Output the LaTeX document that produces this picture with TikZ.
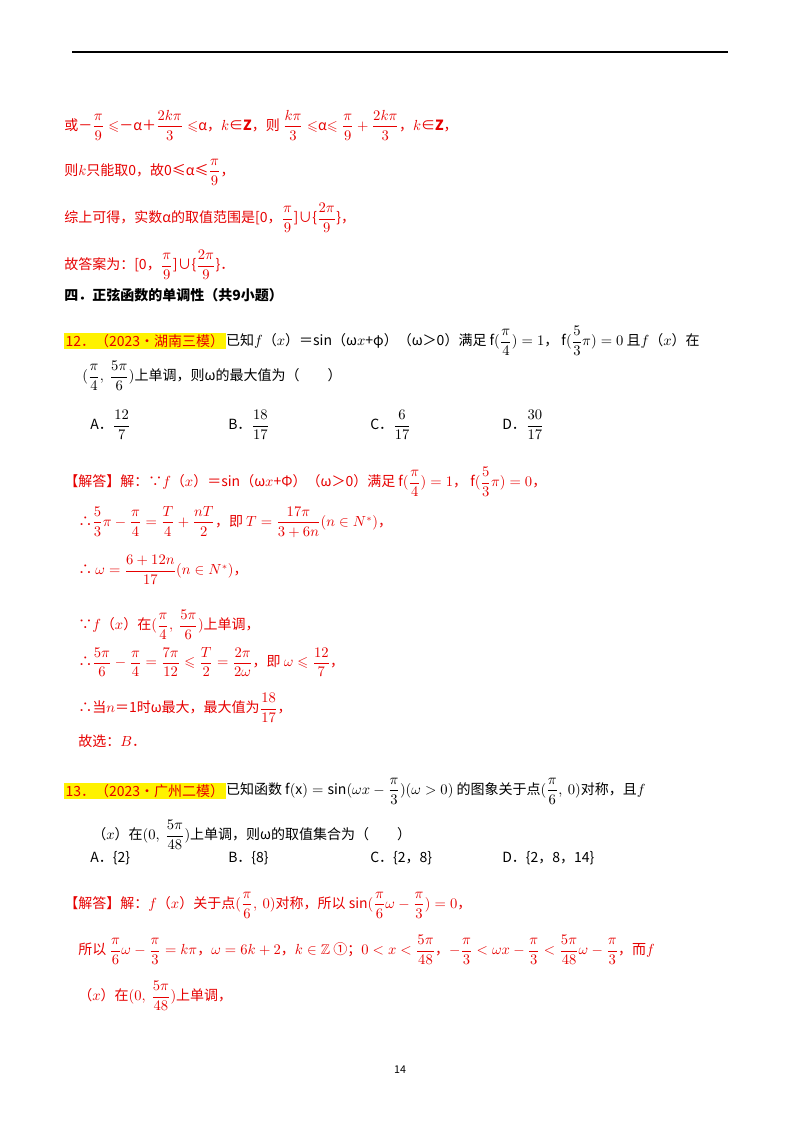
\documentclass[tikz,border=0pt]{standalone}
\usepackage{amsmath,amssymb}
\usepackage{fontspec}
\setmainfont{Noto Sans CJK SC}
\definecolor{ansred}{RGB}{230,0,0}
\begin{document}
\begin{tikzpicture}[x=0.75pt,y=-0.75pt,
  ln/.style={anchor=west,inner sep=0pt,font=\fontsize{10.5}{12}\selectfont},
  rl/.style={ln,text=ansred},
  hl/.style={fill=yellow,inner sep=1pt,anchor=west,text=ansred,font=\fontsize{10.5}{12}\selectfont}]
\useasboundingbox (0,0) rectangle (800,1132);
\draw[line width=0.8pt] (72,52) -- (728,52);
\node[rl] (l1) at (64,125) {或－$\dfrac{\pi}{9}\leqslant$－α＋$\dfrac{2k\pi}{3}\leqslant$α，$k$∈\textbf{Z}，则 $\dfrac{k\pi}{3}\leqslant$α$\leqslant\dfrac{\pi}{9}+\dfrac{2k\pi}{3}$，$k$∈\textbf{Z}，};
\node[rl] (l2) at (64,172) {则$k$只能取0，故0≤α≤$\dfrac{\pi}{9}$，};
\node[rl] (l3) at (64,218) {综上可得，实数α的取值范围是[0，$\dfrac{\pi}{9}$]∪\{$\dfrac{2\pi}{9}$\}，};
\node[rl] (l4) at (64,265) {故答案为：[0，$\dfrac{\pi}{9}$]∪\{$\dfrac{2\pi}{9}$\}．};
\node[ln,font=\fontsize{10.5}{12}\bfseries] (h4) at (64,295) {四．正弦函数的单调性（共9小题）};
\node[hl] (q12) at (64,341) {12．（2023•湖南三模）};
\node[ln] (q12a) at (q12.east) {已知$f$（$x$）＝sin（ω$x$+φ）（ω＞0）满足 $\mathrm{f}(\dfrac{\pi}{4})=1$，~$\mathrm{f}(\dfrac{5}{3}\pi)=0$ 且$f$（$x$）在};
\node[ln] (q12b) at (82,376) {$(\dfrac{\pi}{4},\ \dfrac{5\pi}{6})$上单调，则ω的最大值为（\quad\quad）};
\node[ln] (oA) at (90,425) {A．$\dfrac{12}{7}$};
\node[ln] (oB) at (228,425) {B．$\dfrac{18}{17}$};
\node[ln] (oC) at (370,425) {C．$\dfrac{6}{17}$};
\node[ln] (oD) at (502,425) {D．$\dfrac{30}{17}$};
\node[rl] (s1) at (64,482) {【解答】解：∵$f$（$x$）＝sin（ω$x$+Φ）（ω＞0）满足 $\mathrm{f}(\dfrac{\pi}{4})=1$，~$\mathrm{f}(\dfrac{5}{3}\pi)=0$，};
\node[rl] (s2) at (78,522) {∴$\dfrac{5}{3}\pi-\dfrac{\pi}{4}=\dfrac{T}{4}+\dfrac{nT}{2}$，即 $T=\dfrac{17\pi}{3+6n}(n\in N^{*})$，};
\node[rl] (s3) at (78,570) {∴ $\omega=\dfrac{6+12n}{17}(n\in N^{*})$，};
\node[rl] (s4) at (78,625) {∵$f$（$x$）在$(\dfrac{\pi}{4},\ \dfrac{5\pi}{6})$上单调，};
\node[rl] (s5) at (78,662) {∴$\dfrac{5\pi}{6}-\dfrac{\pi}{4}=\dfrac{7\pi}{12}\leqslant\dfrac{T}{2}=\dfrac{2\pi}{2\omega}$，即 $\omega\leqslant\dfrac{12}{7}$，};
\node[rl] (s6) at (78,708) {∴当$n$＝1时ω最大，最大值为$\dfrac{18}{17}$，};
\node[rl] (s7) at (78,741) {故选：$B$．};
\node[hl] (q13) at (64,791) {13．（2023•广州二模）};
\node[ln] (q13a) at (q13.east) {已知函数 $\mathrm{f(x)=sin}(\omega x-\dfrac{\pi}{3})(\omega>0)$ 的图象关于点$(\dfrac{\pi}{6},\ 0)$对称，且$f$};
\node[ln] (q13b) at (92,835) {（$x$）在$(0,\ \dfrac{5\pi}{48})$上单调，则ω的取值集合为（\quad\quad）};
\node[ln] (pA) at (90,858) {A．\{2\}};
\node[ln] (pB) at (228,858) {B．\{8\}};
\node[ln] (pC) at (370,858) {C．\{2，8\}};
\node[ln] (pD) at (502,858) {D．\{2，8，14\}};
\node[rl] (t1) at (64,905) {【解答】解：$f$（$x$）关于点$(\dfrac{\pi}{6},\ 0)$对称，所以 $\sin(\dfrac{\pi}{6}\omega-\dfrac{\pi}{3})=0$，};
\node[rl] (t2) at (78,950) {所以 $\dfrac{\pi}{6}\omega-\dfrac{\pi}{3}=k\pi$，$\omega=6k+2$，$k\in\mathbb{Z}$ ①；$0<x<\dfrac{5\pi}{48}$，$-\dfrac{\pi}{3}<\omega x-\dfrac{\pi}{3}<\dfrac{5\pi}{48}\omega-\dfrac{\pi}{3}$，而$f$};
\node[rl] (t3) at (78,996) {（$x$）在$(0,\ \dfrac{5\pi}{48})$上单调，};
\node[ln,anchor=center,font=\fontsize{8}{10}\selectfont] (pg) at (400,1070) {14};
\end{tikzpicture}
\end{document}
